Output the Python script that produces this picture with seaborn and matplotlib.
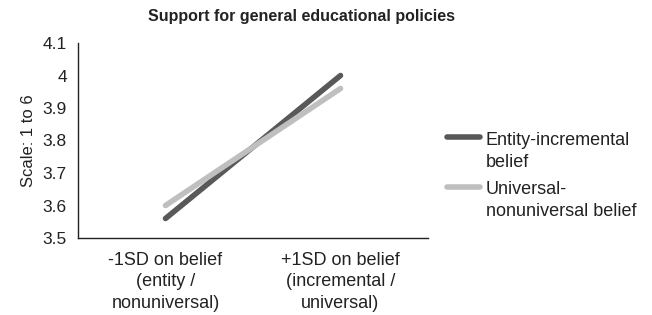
import matplotlib
matplotlib.use("Agg")
import matplotlib.pyplot as plt
from matplotlib.lines import Line2D
from matplotlib.legend_handler import HandlerLine2D
import seaborn as sns
import pandas as pd

categories = ["-1SD on belief\n(entity /\nnonuniversal)", "+1SD on belief\n(incremental /\nuniversal)"]
series_names = ["Entity-incremental\nbelief", "Universal-\nnonuniversal belief"]
entity_vals = [3.56, 4.00]
universal_vals = [3.60, 3.96]
yticks = [3.5, 3.6, 3.7, 3.8, 3.9, 4.0, 4.1]
ytick_labels = ["3.5", "3.6", "3.7", "3.8", "3.9", "4", "4.1"]
colors = ["#595959", "#BFBFBF"]

sns.set_style("white")
plt.rcParams["font.family"] = ["Liberation Sans", "DejaVu Sans"]
TXT = "#222222"

df = pd.DataFrame({
    "x": [0, 1, 0, 1],
    "y": entity_vals + universal_vals,
    "series": [series_names[0]] * 2 + [series_names[1]] * 2,
})

fig = plt.figure(figsize=(6.52, 3.15), dpi=100)
ax = fig.add_axes([78 / 652, 1 - 238 / 315, 350 / 652, 195 / 315])
sns.lineplot(data=df, x="x", y="y", hue="series", palette=colors, linewidth=4.0,
             ax=ax, legend=True, solid_capstyle="round")

ax.set_xlim(-0.5, 1.5)
ax.set_ylim(3.5, 4.1)
ax.set_xticks([-0.5, 0.5, 1.5])
ax.set_xticklabels([])
ax.set_xticks([0, 1], minor=True)
ax.set_xticklabels(categories, minor=True, fontsize=13, color=TXT, linespacing=1.35)
ax.tick_params(axis="x", which="minor", length=0, pad=10)
ax.tick_params(axis="x", which="major", length=4, width=1, direction="out", color=TXT)
ax.set_yticks(yticks)
ax.set_yticklabels(ytick_labels, fontsize=12.5, color=TXT)
ax.tick_params(axis="y", length=5, width=1, direction="out", color=TXT, pad=3)
ax.set_xlabel("")
ax.set_ylabel("Scale: 1 to 6", fontsize=12, color=TXT, labelpad=5)
for s in ["top", "right"]:
    ax.spines[s].set_visible(False)
for s in ["left", "bottom"]:
    ax.spines[s].set_color(TXT)
    ax.spines[s].set_linewidth(1)

fig.text(301 / 652, 1 - 21 / 315, "Support for general educational policies",
         fontsize=11.5, fontweight="bold", color=TXT, ha="center", va="baseline")


class TopLineHandler(HandlerLine2D):
    def create_artists(self, legend, orig_handle, xdescent, ydescent, width, height,
                       fontsize, trans):
        arts = super().create_artists(legend, orig_handle, xdescent, ydescent, width,
                                      height, fontsize, trans)
        for a in arts:
            a.set_ydata([y + 0.78 * fontsize for y in a.get_ydata()])
            a.set_solid_capstyle("round")
        return arts


handles, labels = ax.get_legend_handles_labels()
leg = ax.legend(handles, labels, loc="upper left",
                bbox_to_anchor=(447 / 652, 1 - 132 / 315), bbox_transform=fig.transFigure,
                frameon=False, fontsize=13, handlelength=1.85, handletextpad=0.3,
                labelspacing=0.6, borderpad=0, borderaxespad=0,
                handler_map={Line2D: TopLineHandler()})
for t in leg.get_texts():
    t.set_color(TXT)
    t.set_linespacing(1.35)

fig.savefig("out.png", dpi=100)
